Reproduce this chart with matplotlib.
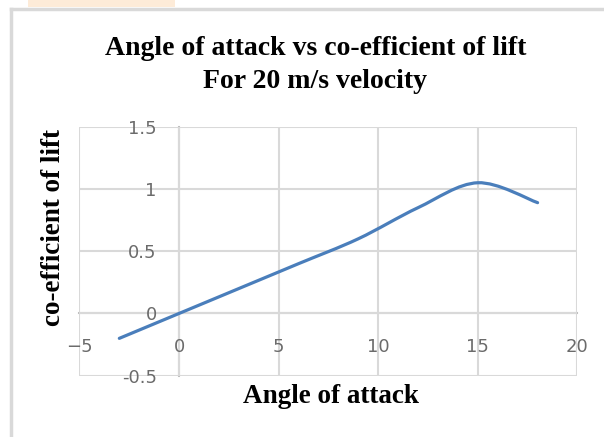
import matplotlib
matplotlib.use('Agg')
import matplotlib.pyplot as plt
from matplotlib.path import Path
from matplotlib.patches import PathPatch, Rectangle
from matplotlib.lines import Line2D

# Values
angle = [-3, 0, 3, 6, 9, 12, 15, 18]
cl = [-0.2, 0.0, 0.2, 0.4, 0.6, 0.85, 1.05, 0.89]
x_ticks = [-5, 0, 5, 10, 15, 20]
y_ticks = [-0.5, 0, 0.5, 1, 1.5]
y_tick_labels = ['-0.5', '0', '0.5', '1', '1.5']

LINE_BLUE = '#4a7ebb'
GRID = '#d9d9d9'
TICK_GREY = '#6b6b6b'


def smooth_path(xs, ys):
    # Excel-style smoothed line: cubic bezier segments through every point
    verts = [(xs[0], ys[0])]
    codes = [Path.MOVETO]
    n = len(xs)
    for i in range(n - 1):
        x0, y0 = xs[max(i - 1, 0)], ys[max(i - 1, 0)]
        x1, y1 = xs[i], ys[i]
        x2, y2 = xs[i + 1], ys[i + 1]
        x3, y3 = xs[min(i + 2, n - 1)], ys[min(i + 2, n - 1)]
        c1 = (x1 + (x2 - x0) / 6, y1 + (y2 - y0) / 6)
        c2 = (x2 - (x3 - x1) / 6, y2 - (y3 - y1) / 6)
        verts += [c1, c2, (x2, y2)]
        codes += [Path.CURVE4] * 3
    return Path(verts, codes)


fig = plt.figure(figsize=(6.04, 4.37), dpi=100)
ax = fig.add_axes([0.1316, 0.1403, 0.8244, 0.5697])

ax.set_xlim(-5, 20)
ax.set_ylim(-0.5, 1.5)
ax.set_xticks(x_ticks)
ax.set_yticks(y_ticks)
ax.set_yticklabels(y_tick_labels)

ax.grid(True, color=GRID, linewidth=1.5)
ax.set_axisbelow(True)
for side in ['top', 'right']:
    ax.spines[side].set_visible(False)
ax.spines['left'].set_position(('data', 0))
ax.spines['bottom'].set_position(('data', 0))
for side in ['left', 'bottom']:
    ax.spines[side].set_color('#bfbfbf')
    ax.spines[side].set_linewidth(1.5)
    ax.spines[side].set_zorder(0.5)

ax.tick_params(axis='both', length=0, labelsize=13, labelcolor=TICK_GREY)
ax.tick_params(axis='y', pad=16)
ax.tick_params(axis='x', pad=18)
for lab in ax.get_xticklabels() + ax.get_yticklabels():
    lab.set_family('DejaVu Sans')

ax.add_patch(PathPatch(smooth_path(angle, cl), facecolor='none',
                       edgecolor=LINE_BLUE, linewidth=2.3,
                       capstyle='round', joinstyle='round', zorder=3))

serif = 'Liberation Serif'
fig.text(0.522, 0.874, 'Angle of attack vs co-efficient of lift',
         ha='center', va='baseline', fontsize=20, fontweight='bold', family=serif)
fig.text(0.522, 0.799, 'For 20 m/s velocity',
         ha='center', va='baseline', fontsize=20, fontweight='bold', family=serif)
fig.text(0.548, 0.078, 'Angle of attack', ha='center', va='baseline',
         fontsize=19.5, fontweight='bold', family=serif)
fig.text(0.088, 0.48, 'co-efficient of lift', ha='center', va='center',
         rotation=90, fontsize=19.5, fontweight='bold', family=serif)

# outer chart frame and the peach strip above it
fig.add_artist(Line2D([11 / 604, 11 / 604], [0, 1 - 9 / 437],
                      transform=fig.transFigure, color='#d9d9d9', linewidth=2.5))
fig.add_artist(Line2D([11 / 604, 1], [1 - 9 / 437, 1 - 9 / 437],
                      transform=fig.transFigure, color='#d9d9d9', linewidth=2.5))
fig.add_artist(Rectangle((28 / 604, 1 - 7 / 437), 147 / 604, 7 / 437,
                         transform=fig.transFigure, facecolor='#fdebd8',
                         edgecolor='none'))

fig.savefig('out.png', dpi=100)
